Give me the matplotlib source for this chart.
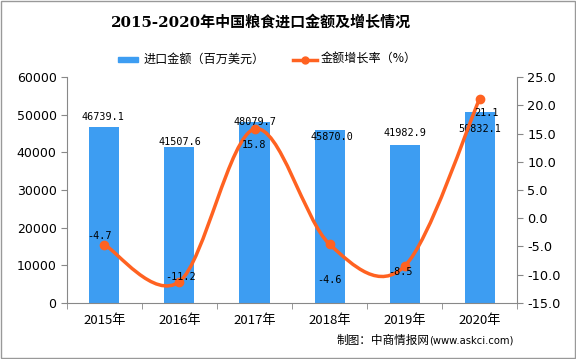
import matplotlib.pyplot as plt
from matplotlib.path import Path
from matplotlib.patches import PathPatch, Rectangle

plt.rcParams['font.family'] = ['Noto Sans CJK SC', 'DejaVu Sans']

# Data
years = ['2015年', '2016年', '2017年', '2018年', '2019年', '2020年']
amount = [46739.1, 41507.6, 48079.7, 45870.0, 41982.9, 50832.1]
growth = [-4.7, -11.2, 15.8, -4.6, -8.5, 21.1]

bar_color = '#3D9DF2'
line_color = '#FF6221'

fig = plt.figure(figsize=(5.76, 3.59), dpi=100)
ax = fig.add_axes([0.1163, 0.156, 0.7813, 0.6295])
ax2 = ax.twinx()

x = list(range(len(years)))
ax.bar(x, amount, width=0.4, color=bar_color, zorder=2)

# bar value labels (pixel offsets of label centre from bar top)
bar_offs = [(-2, 10), (0, 5), (0, 0), (2, -7), (0, 12), (0, -17)]
for xi, v, (dx, dy) in zip(x, amount, bar_offs):
    ax.annotate(f'{v:.1f}', (xi, v), xytext=(dx, dy), textcoords='offset pixels',
                ha='center', va='center', fontsize=7.3, family=['DejaVu Sans Mono'],
                zorder=5)

ax.set_xlim(-0.5, len(years) - 0.5)
ax.set_ylim(0, 60000)
ax.set_yticks(range(0, 60001, 10000))
ax2.set_ylim(-15, 25)
ax2.set_yticks(range(-15, 26, 5))
ax2.set_yticklabels([f'{t:.1f}' for t in range(-15, 26, 5)])
ax.set_xticks(x)
ax.set_xticklabels(years)
ax.set_xticks([i + 0.5 for i in range(-1, len(years))], minor=True)
ax.tick_params(axis='x', which='major', length=0, labelsize=9.5, pad=8)
ax.tick_params(axis='x', which='minor', length=4, color='#888888')
ax.tick_params(axis='y', length=4, color='#888888', labelsize=9)
ax2.tick_params(axis='y', length=4, color='#888888', labelsize=9.3)
for lab in ax.get_yticklabels() + ax2.get_yticklabels():
    lab.set_family(['DejaVu Sans'])

for a in (ax, ax2):
    a.spines['top'].set_visible(False)
    for s in ('left', 'right', 'bottom'):
        a.spines[s].set_color('#888888')
ax.spines['right'].set_visible(False)
ax2.spines['left'].set_visible(False)
ax2.spines['bottom'].set_visible(False)

# smoothed line (Bezier through the points)
pts = list(zip(x, growth))
verts = [pts[0]]
codes = [Path.MOVETO]
for i in range(len(pts) - 1):
    p0 = pts[i - 1] if i > 0 else pts[i]
    p1 = pts[i]
    p2 = pts[i + 1]
    p3 = pts[i + 2] if i + 2 < len(pts) else pts[i + 1]
    c1 = (p1[0] + (p2[0] - p0[0]) / 6, p1[1] + (p2[1] - p0[1]) / 6)
    c2 = (p2[0] - (p3[0] - p1[0]) / 6, p2[1] - (p3[1] - p1[1]) / 6)
    verts += [c1, c2, p2]
    codes += [Path.CURVE4] * 3
ax2.add_patch(PathPatch(Path(verts, codes), facecolor='none', edgecolor=line_color,
                        lw=2.5, zorder=3))
ax2.plot(x, growth, 'o', color=line_color, ms=6, zorder=4)

line_offs = [(-5, 9), (1, 5), (0, -16), (0, -36), (-4, -6), (7, -14)]
for xi, v, (dx, dy) in zip(x, growth, line_offs):
    ax2.annotate(f'{v:.1f}', (xi, v), xytext=(dx, dy), textcoords='offset pixels',
                 ha='center', va='center', fontsize=7.3, family=['DejaVu Sans Mono'],
                 zorder=5)

# legend
fig.add_artist(Rectangle((0.205, 0.826), 0.035, 0.016, transform=fig.transFigure,
                         color=bar_color))
fig.text(0.249, 0.834, '进口金额（百万美元）', fontsize=8.7, va='center')
fig.add_artist(plt.Line2D([0.509, 0.551], [0.834, 0.834], transform=fig.transFigure,
                          color=line_color, lw=2.5))
fig.add_artist(plt.Line2D([0.530], [0.834], transform=fig.transFigure,
                          color=line_color, marker='o', ms=5))
fig.text(0.557, 0.834, '金额增长率（%）', fontsize=8.7, va='center')

fig.text(0.453, 0.938, '2015-2020年中国粮食进口金额及增长情况', ha='center', va='center',
         fontsize=10.8, fontweight='bold', family=['DejaVu Serif', 'Noto Sans CJK SC'])
fig.text(0.745, 0.052, '制图：中商情报网', ha='right', va='center', fontsize=8.4)
fig.text(0.745, 0.052, '(www.askci.com)', ha='left', va='center', fontsize=7.2,
         family=['DejaVu Sans'])
fig.add_artist(Rectangle((0.001, 0.002), 0.997, 0.995, transform=fig.transFigure,
                         fill=False, edgecolor='#999999', lw=1))

fig.savefig('out.png', dpi=100)
